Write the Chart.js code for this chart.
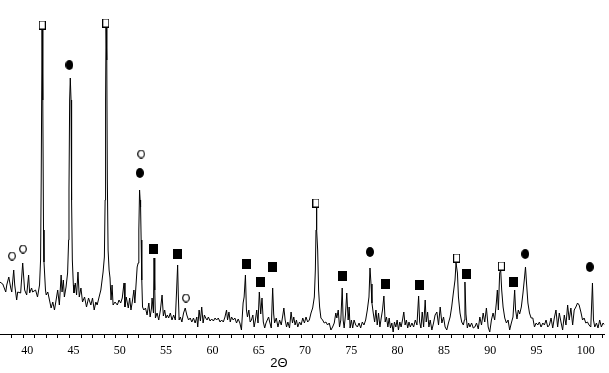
<!DOCTYPE html>
<html>
<head>
<meta charset="utf-8">
<title>XRD pattern</title>
<script src="https://cdn.jsdelivr.net/npm/chart.js@4.4.0/dist/chart.umd.min.js"></script>
<style>
  html, body { margin: 0; padding: 0; background: #fff; }
  #wrap { width: 609px; height: 373px; }
</style>
</head>
<body>
<div id="wrap"><canvas id="xrdChart" width="609" height="373"></canvas></div>
<script>
// Scan: [2theta (deg), intensity (arb. units)]
const scan = [
  [37.48,52],[37.80,50],[38.12,42],[38.23,49],[38.45,57],[38.66,46],[38.77,42],[38.98,64],[39.09,49],[39.30,34],
  [39.41,42],[39.73,41],[39.95,71],[40.16,44],[40.38,39],[40.59,59],[40.70,41],[40.91,46],[41.02,42],[41.34,44],
  [41.55,37],[41.77,49],[41.88,74],[41.95,154],[42.04,304],[42.12,234],[42.20,104],[42.25,72],[42.41,44],[42.49,39],
  [42.66,42],[42.84,34],[43.02,26],[43.20,32],[43.38,24],[43.56,34],[43.73,44],[43.91,29],[44.10,59],[44.20,42],
  [44.34,54],[44.45,37],[44.63,47],[44.80,61],[44.91,94],[44.95,144],[45.02,234],[45.09,256],[45.17,234],[45.23,134],
  [45.31,74],[45.42,49],[45.49,41],[45.63,51],[45.77,39],[45.92,62],[46.06,37],[46.24,46],[46.41,32],[46.63,37],
  [46.84,27],[47.06,36],[47.31,29],[47.49,36],[47.67,24],[47.85,32],[47.99,29],[48.20,37],[48.39,44],[48.63,62],
  [48.77,77],[48.85,134],[48.90,234],[48.95,306],[49.03,274],[49.09,154],[49.17,84],[49.28,64],[49.38,56],[49.49,34],
  [49.60,49],[49.71,29],[49.92,32],[50.17,29],[50.35,34],[50.53,31],[50.70,36],[50.89,51],[50.99,27],[51.13,37],
  [51.35,26],[51.50,36],[51.64,24],[51.78,32],[51.96,44],[52.06,31],[52.20,51],[52.31,67],[52.42,71],[52.49,104],
  [52.57,144],[52.63,134],[52.68,127],[52.74,94],[52.81,54],[52.89,27],[53.03,24],[53.21,26],[53.38,19],[53.57,31],
  [53.71,17],[53.86,26],[53.92,36],[54.07,21],[54.13,76],[54.21,44],[54.28,16],[54.46,21],[54.64,14],[54.82,24],
  [55.00,39],[55.14,18],[55.28,24],[55.42,16],[55.57,19],[55.71,16],[55.89,21],[56.07,14],[56.25,19],[56.43,14],
  [56.57,44],[56.68,69],[56.75,40],[56.84,14],[56.97,17],[57.14,12],[57.32,21],[57.50,26],[57.67,19],[57.86,14],
  [58.04,16],[58.21,12],[58.39,16],[58.57,11],[58.75,17],[58.85,7],[59.00,24],[59.14,13],[59.28,27],[59.43,11],
  [59.57,19],[59.71,16],[59.86,14],[60.00,17],[60.18,13],[60.36,15],[60.54,13],[60.72,16],[60.89,14],[61.07,16],
  [61.26,12],[61.43,14],[61.61,12],[61.79,17],[61.96,24],[62.07,14],[62.22,22],[62.36,12],[62.50,17],[62.68,14],
  [62.86,16],[63.04,11],[63.22,15],[63.40,11],[63.57,4],[63.75,31],[63.86,37],[64.00,59],[64.11,24],[64.22,17],
  [64.37,24],[64.51,12],[64.65,14],[64.80,19],[64.94,7],[65.08,14],[65.22,24],[65.36,11],[65.50,42],[65.65,20],
  [65.79,36],[65.93,12],[66.08,6],[66.22,11],[66.36,14],[66.50,17],[66.62,12],[66.79,6],[66.94,46],[67.05,20],
  [67.15,11],[67.33,16],[67.51,7],[67.69,14],[67.87,9],[68.04,19],[68.15,26],[68.29,14],[68.44,7],[68.58,12],
  [68.76,6],[68.93,22],[69.08,11],[69.22,17],[69.36,9],[69.51,14],[69.65,7],[69.84,12],[70.01,9],[70.19,16],
  [70.37,11],[70.54,17],[70.72,12],[70.90,14],[71.08,21],[71.26,26],[71.44,37],[71.55,64],[71.62,104],[71.66,126],
  [71.72,104],[71.80,84],[71.90,44],[72.01,27],[72.15,16],[72.33,14],[72.51,11],[72.69,12],[72.87,9],[73.05,11],
  [73.23,4],[73.41,7],[73.59,11],[73.76,21],[73.87,16],[74.02,24],[74.16,7],[74.30,14],[74.45,46],[74.55,14],
  [74.66,6],[74.80,19],[74.94,41],[75.09,14],[75.20,27],[75.30,6],[75.44,14],[75.58,6],[75.73,14],[75.91,9],
  [76.09,7],[76.27,11],[76.44,6],[76.62,12],[76.80,9],[76.98,14],[77.16,24],[77.34,37],[77.45,66],[77.56,50],
  [77.66,31],[77.80,21],[77.95,12],[78.09,24],[78.23,9],[78.37,21],[78.52,7],[78.66,16],[78.80,24],[78.95,38],
  [79.09,12],[79.23,17],[79.38,7],[79.52,16],[79.66,6],[79.81,11],[79.95,2],[80.09,12],[80.24,7],[80.38,14],
  [80.52,4],[80.67,12],[80.81,7],[80.96,14],[81.10,22],[81.24,9],[81.38,14],[81.52,6],[81.66,12],[81.80,7],
  [81.98,11],[82.16,7],[82.34,14],[82.52,9],[82.70,38],[82.81,12],[82.95,6],[83.09,22],[83.24,7],[83.41,34],
  [83.52,12],[83.67,22],[83.81,7],[83.95,14],[84.13,4],[84.31,11],[84.48,19],[84.67,22],[84.85,9],[85.03,27],
  [85.21,11],[85.39,17],[85.56,7],[85.74,4],[85.92,11],[86.10,17],[86.27,27],[86.45,41],[86.63,54],[86.74,71],
  [86.89,61],[87.00,37],[87.17,21],[87.35,12],[87.53,9],[87.64,14],[87.70,52],[87.81,20],[87.96,6],[88.10,11],
  [88.24,7],[88.42,11],[88.60,6],[88.77,7],[88.95,11],[89.14,5],[89.31,17],[89.49,9],[89.67,21],[89.84,12],
  [90.02,26],[90.21,7],[90.38,2],[90.56,14],[90.74,21],[90.91,14],[91.09,31],[91.20,44],[91.31,24],[91.45,61],
  [91.56,64],[91.67,44],[91.82,27],[92.00,16],[92.18,11],[92.36,14],[92.53,4],[92.71,11],[92.89,17],[93.07,44],
  [93.17,24],[93.32,15],[93.46,24],[93.61,20],[93.79,27],[93.97,41],[94.14,57],[94.24,67],[94.35,51],[94.50,31],
  [94.67,21],[94.85,16],[95.03,16],[95.21,7],[95.39,11],[95.57,9],[95.74,12],[95.92,7],[96.11,11],[96.28,9],
  [96.46,14],[96.64,7],[96.82,9],[97.00,16],[97.18,6],[97.35,16],[97.53,24],[97.71,7],[97.89,21],[98.07,12],
  [98.25,4],[98.43,19],[98.61,9],[98.79,29],[98.96,14],[99.14,26],[99.33,9],[99.50,24],[99.68,27],[99.86,31],
  [100.03,29],[100.22,22],[100.40,14],[100.57,16],[100.75,11],[100.93,12],[101.10,9],[101.29,7],[101.47,51],[101.58,14],
  [101.72,7],[101.90,11],[102.07,6],[102.25,14],[102.43,7],[102.61,11],[102.79,9]
];

// Phase markers placed above the peaks: [2theta, height]
const openSquarePeaks   = [[42.06,309],[48.92,311],[71.61,131],[86.81,76],[91.63,68]];
const filledCirclePeaks = [[44.99,269],[52.60,161],[77.45,82],[94.21,80],[101.18,67]];
const openCirclePeaks   = [[38.80,78],[39.98,85],[52.74,180],[57.57,36]];
const filledSquarePeaks = [[54.03,85],[56.71,80],[64.11,70],[65.61,52],[66.90,67],[74.51,58],[79.12,50],[82.77,49],[87.91,60],[92.95,52]];

// Axis
const tickLabels = [40, 45, 50, 55, 60, 65, 70, 75, 80, 85, 90, 95, 100];
const xTitle = '2\u0398';

// Small canvases used as point styles for the phase symbols
function markerCanvas(kind) {
    const sizes = { filledSquare: [9, 10], openSquare: [7, 9], filledCircle: [8, 10], openCircle: [8, 9] };
    const [w, h] = sizes[kind];
    const c = document.createElement('canvas');
    c.width = w;
    c.height = h;
    const g = c.getContext('2d');
    g.fillStyle = '#000';
    g.strokeStyle = '#000';
    g.lineWidth = 1;
    if (kind === 'filledSquare') {
        g.fillRect(0, 0, w, h);
    } else if (kind === 'openSquare') {
        g.fillStyle = '#fff';
        g.fillRect(0, 0, w, h);
        g.strokeRect(0.5, 0.5, w - 1, h - 1);
    } else if (kind === 'filledCircle') {
        g.beginPath();
        g.ellipse(w / 2, h / 2, w / 2, h / 2, 0, 0, Math.PI * 2);
        g.fill();
    } else {
        g.beginPath();
        g.ellipse(w / 2, h / 2, w / 2 - 0.7, h / 2 - 0.7, 0, 0, Math.PI * 2);
        g.fillStyle = '#fff';
        g.fill();
        g.lineWidth = 1.2;
        g.stroke();
    }
    return c;
}

function toPoints(arr) {
    return arr.map(p => ({ x: p[0], y: p[1] }));
}

function markerSet(label, arr, kind) {
    return {
        label: label,
        data: toPoints(arr),
        showLine: false,
        pointStyle: markerCanvas(kind),
        pointRadius: 5,
        order: 0
    };
}

// minor ticks every 1.25 deg, labels on the 5 deg ones
const minorTicks = [];
for (let v = 38.75; v <= 102.5; v += 1.25) minorTicks.push(v);

// draws the axis title a little left of centre, like the original
const axisTitlePlugin = {
    id: 'axisTitle',
    afterDraw(chart) {
        const ctx = chart.ctx;
        ctx.save();
        ctx.font = '13px "Liberation Sans", Arial, sans-serif';
        ctx.fillStyle = '#000';
        ctx.textAlign = 'center';
        ctx.textBaseline = 'middle';
        ctx.fillText(xTitle, 279, chart.chartArea.bottom + 29.5);
        ctx.restore();
    }
};

const ctx = document.getElementById('xrdChart').getContext('2d');
new Chart(ctx, {
    type: 'line',
    data: {
        datasets: [
            {
                label: 'scan',
                data: toPoints(scan),
                borderColor: '#000',
                borderWidth: 1,
                pointRadius: 0,
                tension: 0,
                fill: false,
                order: 1
            },
            markerSet('open square', openSquarePeaks, 'openSquare'),
            markerSet('filled circle', filledCirclePeaks, 'filledCircle'),
            markerSet('open circle', openCirclePeaks, 'openCircle'),
            markerSet('filled square', filledSquarePeaks, 'filledSquare')
        ]
    },
    options: {
        responsive: false,
        animation: false,
        events: [],
        layout: { autoPadding: false, padding: { top: 0, left: 0, right: 0, bottom: 9 } },
        plugins: {
            legend: { display: false },
            tooltip: { enabled: false }
        },
        scales: {
            x: {
                type: 'linear',
                min: 37.5,
                max: 102.75,
                afterBuildTicks: axis => {
                    axis.ticks = minorTicks.map(v => ({ value: v }));
                },
                ticks: {
                    autoSkip: false,
                    maxRotation: 0,
                    minRotation: 0,
                    align: 'start',
                    labelOffset: -2,
                    padding: 7,
                    color: '#000',
                    font: { family: '"Liberation Serif", "Times New Roman", serif', size: 12, lineHeight: 1 },
                    callback: v => tickLabels.includes(v) ? String(v) : ''
                },
                grid: {
                    drawOnChartArea: false,
                    drawTicks: true,
                    tickLength: 4,
                    tickColor: '#000'
                },
                border: { display: true, color: '#000', width: 1 }
            },
            y: {
                display: false,
                min: 0,
                max: 334
            }
        }
    },
    plugins: [axisTitlePlugin]
});
</script>
</body>
</html>
